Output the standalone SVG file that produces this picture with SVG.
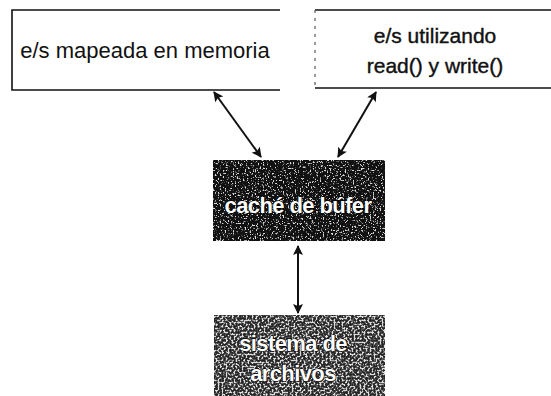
<svg xmlns="http://www.w3.org/2000/svg" width="551" height="396" viewBox="0 0 551 396">
<style>
.edge{fill:none;stroke:#111;stroke-width:1.6}
.dash{fill:none;stroke:#555;stroke-width:1.2;stroke-dasharray:3 5}
.lbl{font-family:"Liberation Sans",Arial,sans-serif;font-size:22px;fill:#111;text-anchor:middle}
.lbl2{font-family:"Liberation Sans",Arial,sans-serif;font-size:21px;fill:#111;text-anchor:middle;stroke:#111;stroke-width:0.4px}
.wl{font-family:"Liberation Sans",Arial,sans-serif;font-size:22px;font-weight:bold;fill:#fff;text-anchor:middle;letter-spacing:-0.6px;stroke:#000;stroke-width:1.2px;paint-order:stroke}
.conn{fill:none;stroke:#111;stroke-width:2}
</style>
<defs>
<marker id="ah" viewBox="0 0 10 10" refX="9" refY="5" markerWidth="6" markerHeight="5" orient="auto-start-reverse" markerUnits="strokeWidth">
<path d="M0,0 L10,5 L0,10 L2,5 Z" fill="#111"/>
</marker>
<filter id="grain" x="0" y="0" width="100%" height="100%">
<feTurbulence type="fractalNoise" baseFrequency="0.6" numOctaves="3" seed="4" result="t"/>
<feColorMatrix in="t" type="matrix" values="0 0 0 0 1 0 0 0 0 1 0 0 0 0 1 8 0 0 0 -4.6" result="sp"/>
<feComposite in="sp" in2="SourceGraphic" operator="in"/>
</filter>
<filter id="grain2" x="0" y="0" width="100%" height="100%">
<feTurbulence type="fractalNoise" baseFrequency="0.5" numOctaves="3" seed="9" result="t"/>
<feColorMatrix in="t" type="matrix" values="0 0 0 0 1 0 0 0 0 1 0 0 0 0 1 7 0 0 0 -3.3" result="sp"/>
<feComposite in="sp" in2="SourceGraphic" operator="in"/>
</filter>
</defs>

<g id="connectors">
<line class="conn" x1="214" y1="92" x2="261" y2="157" marker-start="url(#ah)" marker-end="url(#ah)"/>
<line class="conn" x1="376" y1="92" x2="338" y2="157" marker-start="url(#ah)" marker-end="url(#ah)"/>
<line class="conn" x1="298" y1="246" x2="298" y2="313" marker-start="url(#ah)" marker-end="url(#ah)"/>
</g>

<g id="node-mapeada">
<path class="edge" d="M280,10 L12,10 L12,90 L280,90"/>
<text class="lbl" x="145" y="58">e/s mapeada en memoria</text>
</g>

<g id="node-readwrite">
<path class="edge" d="M551,10 L315,10"/>
<path class="edge" d="M315,88 L551,88"/>
<path class="dash" d="M315,10 L315,88"/>
<text class="lbl2" x="435" y="43">e/s utilizando</text>
<text class="lbl2" x="435" y="73">read() y write()</text>
</g>

<g id="node-cache">
<rect x="213" y="160" width="172" height="81" fill="#111"/>
<rect x="213" y="160" width="172" height="81" fill="#fff" filter="url(#grain)" opacity="0.85"/>
<text class="wl" x="298" y="213">caché de búfer</text>
</g>

<g id="node-sistema">
<rect x="214" y="315" width="171" height="81" fill="#262626"/>
<rect x="214" y="315" width="171" height="81" fill="#fff" filter="url(#grain2)" opacity="0.85"/>
<text class="wl" x="293" y="351">sistema de</text>
<text class="wl" x="293" y="381">archivos</text>
</g>
</svg>
